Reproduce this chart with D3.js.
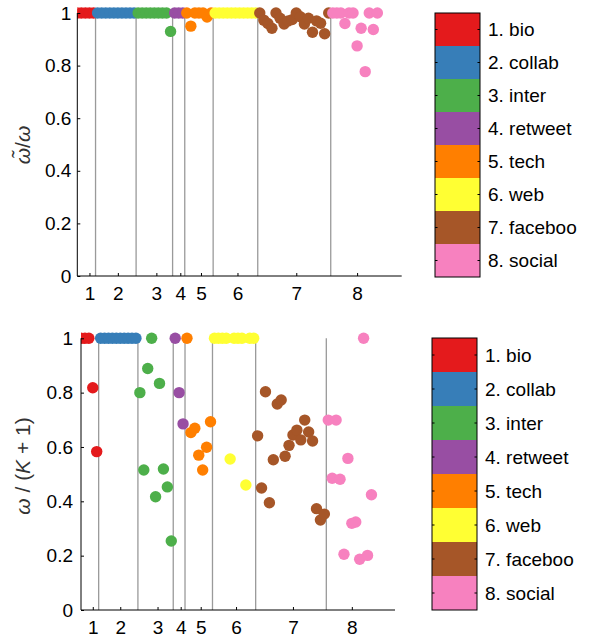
<!DOCTYPE html>
<html>
<head>
<meta charset="utf-8">
<script src="https://cdn.jsdelivr.net/npm/d3@7"></script>
<style>
  html, body { margin: 0; padding: 0; background: #fff; }
  svg { display: block; }
  text { font-family: "Liberation Sans", Arial, sans-serif; }
</style>
</head>
<body>
<svg id="chart" width="591" height="637"></svg>
<script>
// ---------------- data ----------------
const groupNames = ["1. bio", "2. collab", "3. inter", "4. retweet", "5. tech", "6. web", "7. faceboo", "8. social"];
const groupSizes = [5, 10, 9, 3, 7, 11, 18, 12];
const groupColors = ["#e41a1c", "#377eb8", "#4daf4a", "#984ea3", "#ff7f00", "#ffff33", "#a65628", "#f781bf"];
const xTickLabels = ["1", "2", "3", "4", "5", "6", "7", "8"];
const xTickValues = [4, 11, 20.5, 26.4, 31.5, 40.5, 55, 70];
const yTickValues = [0, 0.2, 0.4, 0.6, 0.8, 1];

// top panel: omega-tilde / omega
const topBio = [1, 1, 1, 1, 1];
const topCollab = [1, 1, 1, 1, 1, 1, 1, 1, 1, 1];
const topInter = [1, 1, 1, 1, 1, 1, 1, 1, 0.93];
const topRetweet = [1, 1, 1];
const topTech = [1, 0.95, 1, 1, 1, 0.985, 1];
const topWeb = [1, 1, 1, 1, 1, 1, 1, 1, 1, 1, 1];
const topFacebook = [1, 0.973, 0.96, 0.942, 1, 0.98, 0.958, 0.97, 0.975, 1, 0.986, 0.958, 0.98, 0.927, 0.97, 0.961, 0.921, 1];
const topSocial = [1, 1, 1, 0.96, 1, 1, 0.875, 0.942, 0.777, 1, 0.937, 1];

// bottom panel: omega / (K + 1)
const botBio = [1, 1, 1, 0.818, 0.583];
const botCollab = [1, 1, 1, 1, 1, 1, 1, 1, 1, 1];
const botInter = [0.80, 0.515, 0.889, 1, 0.417, 0.834, 0.519, 0.453, 0.254];
const botRetweet = [1, 0.80, 0.685];
const botTech = [1, 0.653, 0.669, 0.57, 0.515, 0.599, 0.693];
const botWeb = [1, 1, 1, 1, 0.556, 1, 1, 1, 0.46, 1, 1];
const botFacebook = [0.641, 0.449, 0.803, 0.395, 0.553, 0.758, 0.773, 0.566, 0.606, 0.644, 0.662, 0.626, 0.699, 0.655, 0.622, 0.373, 0.331, 0.353];
const botSocial = [0.699, 0.485, 0.699, 0.481, 0.205, 0.558, 0.319, 0.324, 0.187, 1, 0.201, 0.424];

const topSeries = [topBio, topCollab, topInter, topRetweet, topTech, topWeb, topFacebook, topSocial];
const botSeries = [botBio, botCollab, botInter, botRetweet, botTech, botWeb, botFacebook, botSocial];

// ---------------- drawing ----------------
const svg = d3.select("#chart");
const FONT = 19;

function buildPoints(series) {
  const pts = [];
  let idx = 1;
  series.forEach((vals, g) => {
    vals.forEach(v => { pts.push({ i: idx, v: v, g: g }); idx++; });
  });
  return pts;
}
function boundaries() {
  const b = [];
  let c = 0;
  for (let g = 0; g < groupSizes.length - 1; g++) { c += groupSizes[g]; b.push(c + 0.5); }
  return b;
}

function panel(cfg) {
  const x = d3.scaleLinear().domain([1, 81]).range([cfg.left, cfg.right]);
  const y = d3.scaleLinear().domain([0, 1]).range([cfg.bottom, cfg.top]);
  const g = svg.append("g");

  const clipId = "clip" + cfg.id;
  g.append("clipPath").attr("id", clipId).append("rect")
    .attr("x", cfg.left).attr("y", cfg.top - 30)
    .attr("width", cfg.right - cfg.left + 30).attr("height", cfg.bottom - cfg.top + 60);

  // group separator lines
  g.append("g").selectAll("line").data(boundaries()).join("line")
    .attr("x1", d => x(d)).attr("x2", d => x(d))
    .attr("y1", y(0)).attr("y2", y(1))
    .attr("stroke", "#9a9a9a").attr("stroke-width", 1.3);

  // points
  g.append("g").attr("clip-path", `url(#${clipId})`)
    .selectAll("circle").data(buildPoints(cfg.series)).join("circle")
    .attr("cx", d => x(d.i)).attr("cy", d => y(d.v)).attr("r", 5.7)
    .attr("fill", d => groupColors[d.g]);

  // x axis
  const xAxis = d3.axisBottom(x).tickValues(xTickValues)
    .tickFormat((d, k) => xTickLabels[k]).tickSize(-3).tickPadding(11);
  const gx = g.append("g").attr("transform", `translate(0,${cfg.bottom})`).call(xAxis);
  gx.select(".domain").attr("d", `M${cfg.left},0H${cfg.right}`).attr("stroke", "#000");
  gx.selectAll(".tick line").attr("stroke", "#000");
  gx.selectAll(".tick text").attr("font-size", FONT).attr("font-family", "Liberation Sans, Arial, sans-serif")
    .attr("fill", "#000").attr("dy", "0.71em");

  // y axis
  const yAxis = d3.axisLeft(y).tickValues(yTickValues)
    .tickFormat(d3.format("~g")).tickSize(-3).tickPadding(cfg.yPad);
  const gy = g.append("g").attr("transform", `translate(${cfg.left},0)`).call(yAxis);
  gy.select(".domain").attr("d", `M0,${cfg.top}V${cfg.bottom}`).attr("stroke", "#000");
  gy.selectAll(".tick line").attr("stroke", "#000");
  gy.selectAll(".tick text").attr("font-size", FONT).attr("font-family", "Liberation Sans, Arial, sans-serif")
    .attr("fill", "#000");

  // y label
  const lab = g.append("text")
    .attr("transform", `translate(${cfg.yLabelX},${cfg.yLabelY}) rotate(-90)`)
    .attr("text-anchor", "middle")
    .attr("font-family", "Liberation Serif, DejaVu Serif, serif")
    .attr("font-size", 21).attr("fill", "#333");
  cfg.yLabel.forEach(p => {
    lab.append("tspan").text(p.t).attr("font-style", p.it ? "italic" : "normal");
  });

  // legend (colorbar-like)
  const L = cfg.legend;
  const ly = d3.scaleBand().domain(groupNames).range([L.y0, L.y1]).padding(0);
  const lg = g.append("g");
  lg.selectAll("rect.sw").data(groupNames).join("rect").attr("class", "sw")
    .attr("x", L.x0).attr("y", d => ly(d)).attr("width", L.x1 - L.x0).attr("height", ly.bandwidth())
    .attr("fill", (d, k) => groupColors[k]);
  lg.append("rect").attr("x", L.x0).attr("y", L.y0).attr("width", L.x1 - L.x0).attr("height", L.y1 - L.y0)
    .attr("fill", "none").attr("stroke", "#000").attr("stroke-width", 1);
  const ticksG = lg.append("g");
  groupNames.forEach(n => {
    const cy = ly(n) + ly.bandwidth() / 2;
    ticksG.append("line").attr("x1", L.x0).attr("x2", L.x0 + 2.5).attr("y1", cy).attr("y2", cy).attr("stroke", "#000");
    ticksG.append("line").attr("x1", L.x1).attr("x2", L.x1 - 2.5).attr("y1", cy).attr("y2", cy).attr("stroke", "#000");
  });
  lg.selectAll("text").data(groupNames).join("text")
    .attr("x", L.labelX).attr("y", d => ly(d) + ly.bandwidth() / 2).attr("dy", "0.35em")
    .attr("font-size", FONT).attr("fill", "#000").text(d => d);
}

panel({
  id: "top", series: topSeries,
  left: 77.3, right: 401.7, top: 13, bottom: 276, yPad: 6,
  yLabelX: 30, yLabelY: 145,
  yLabel: [{ t: "\u03c9\u0303", it: true }, { t: "/", it: false }, { t: "\u03c9", it: true }],
  legend: { x0: 435, x1: 480, y0: 13, y1: 277, labelX: 488 }
});
panel({
  id: "bot", series: botSeries,
  left: 81, right: 395, top: 338.3, bottom: 610, yPad: 8,
  yLabelX: 30, yLabelY: 466,
  yLabel: [{ t: "\u03c9", it: true }, { t: " / (", it: false }, { t: "K", it: true }, { t: " + 1)", it: false }],
  legend: { x0: 432, x1: 477, y0: 338, y1: 610, labelX: 485 }
});
</script>
</body>
</html>
